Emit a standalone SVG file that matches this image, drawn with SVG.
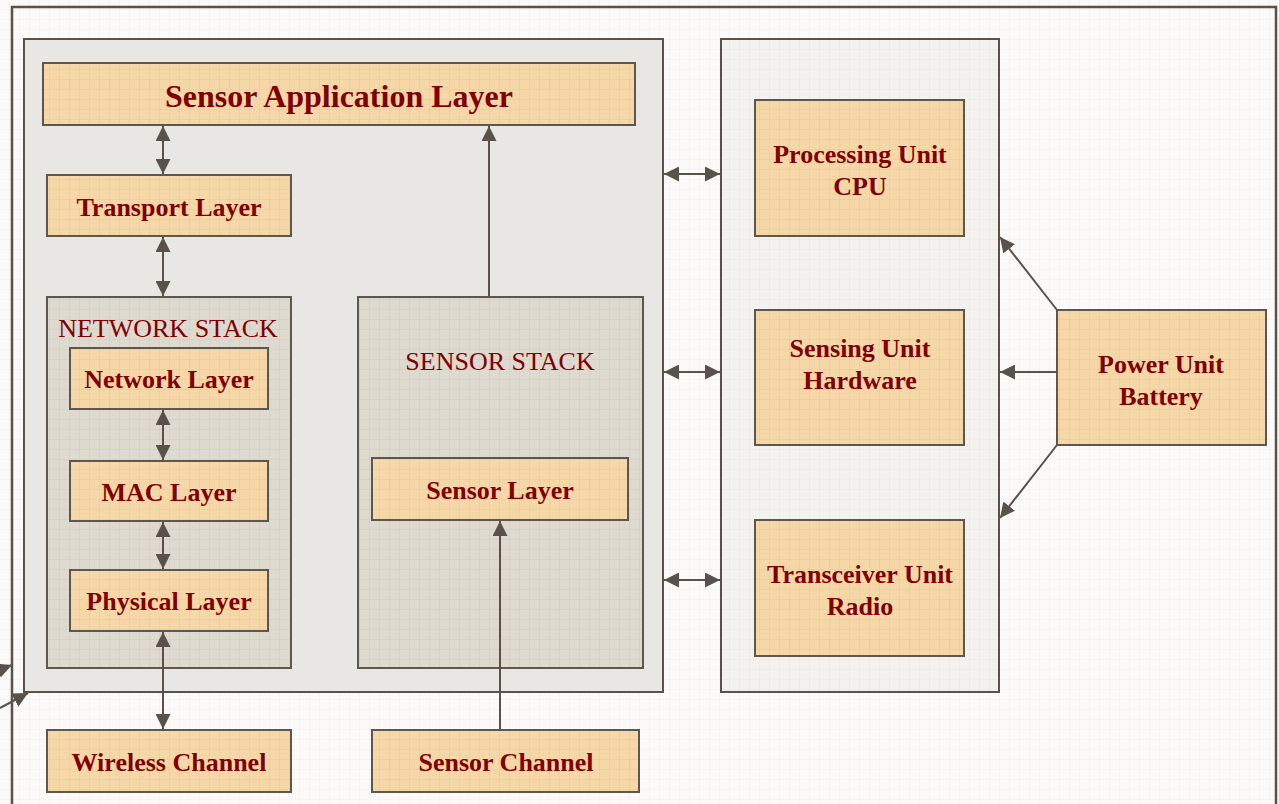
<svg xmlns="http://www.w3.org/2000/svg" width="1279" height="804" viewBox="0 0 1279 804">
  <defs>
    <pattern id="gridBg" width="10" height="10" patternUnits="userSpaceOnUse">
      <rect width="10" height="10" fill="#fbfaf8"/>
      <path d="M10 0V10H0" fill="none" stroke="#f1efeb" stroke-width="1"/>
    </pattern>
    <pattern id="gridOrange" width="10" height="10" patternUnits="userSpaceOnUse">
      <rect width="10" height="10" fill="#f6d8a8"/>
      <path d="M10 0V10H0" fill="none" stroke="#f9c47a" stroke-width="1"/>
    </pattern>
    <pattern id="gridStack" width="10" height="10" patternUnits="userSpaceOnUse">
      <rect width="10" height="10" fill="#dedad0"/>
      <path d="M10 0V10H0" fill="none" stroke="#cfcabe" stroke-width="1"/>
    </pattern>
    <pattern id="gridPanel" width="10" height="10" patternUnits="userSpaceOnUse">
      <rect width="10" height="10" fill="#f3f2ef"/>
      <path d="M10 0V10H0" fill="none" stroke="#e8e6e1" stroke-width="1"/>
    </pattern>
    <marker id="arrow" viewBox="0 0 15 15" refX="15" refY="7.5" markerWidth="15" markerHeight="15" markerUnits="userSpaceOnUse" orient="auto-start-reverse">
      <path d="M0 0L15 7.5L0 15Z" fill="#5a524a"/>
    </marker>
    <style>
      .frame { fill: none; stroke: #5a524a; stroke-width: 2.5; }
      .panel { stroke: #5a524a; stroke-width: 2; }
      .box { fill: url(#gridOrange); stroke: #5e5750; stroke-width: 2; }
      .stack { fill: url(#gridStack); stroke: #5e5750; stroke-width: 2; }
      .lbl { font-family: "Liberation Serif", "Times New Roman", serif; font-weight: bold; font-size: 26px; fill: #800000; text-anchor: middle; }
      .title { font-size: 32px; }
      .stackLbl { font-family: "Liberation Serif", "Times New Roman", serif; font-size: 26px; fill: #800000; text-anchor: middle; }
      .conn { fill: none; stroke: #5a524a; stroke-width: 2; }
    </style>
  </defs>

  <!-- page background and outer frame -->
  <rect x="0" y="0" width="1279" height="804" fill="url(#gridBg)"/>
  <path class="frame" d="M12 804V7H1276V804"/>

  <!-- software side panel -->
  <g id="software-panel">
    <rect class="panel" x="24" y="39" width="639" height="653" fill="#e9e7e3"/>
  </g>

  <!-- hardware side panel -->
  <g id="hardware-panel">
    <rect class="panel" x="721" y="39" width="278" height="653" fill="url(#gridPanel)"/>
  </g>

  <g id="sensor-application-layer">
    <rect class="box" x="43" y="63" width="592" height="62"/>
    <text class="lbl title" x="339" y="107">Sensor Application Layer</text>
  </g>

  <g id="transport-layer">
    <rect class="box" x="47" y="175" width="244" height="61"/>
    <text class="lbl" x="169" y="216">Transport Layer</text>
  </g>

  <g id="network-stack">
    <rect class="stack" x="47" y="297" width="244" height="371"/>
    <text class="stackLbl" x="168" y="337">NETWORK STACK</text>
  </g>

  <g id="network-layer">
    <rect class="box" x="70" y="348" width="198" height="61"/>
    <text class="lbl" x="169" y="388">Network Layer</text>
  </g>

  <g id="mac-layer">
    <rect class="box" x="70" y="461" width="198" height="60"/>
    <text class="lbl" x="169" y="501">MAC Layer</text>
  </g>

  <g id="physical-layer">
    <rect class="box" x="70" y="570" width="198" height="61"/>
    <text class="lbl" x="169" y="610">Physical Layer</text>
  </g>

  <g id="sensor-stack">
    <rect class="stack" x="358" y="297" width="285" height="371"/>
    <text class="stackLbl" x="500" y="370">SENSOR STACK</text>
  </g>

  <g id="sensor-layer">
    <rect class="box" x="372" y="458" width="256" height="62"/>
    <text class="lbl" x="500" y="499">Sensor Layer</text>
  </g>

  <g id="wireless-channel">
    <rect class="box" x="47" y="730" width="244" height="62"/>
    <text class="lbl" x="169" y="771">Wireless Channel</text>
  </g>

  <g id="sensor-channel">
    <rect class="box" x="372" y="730" width="267" height="62"/>
    <text class="lbl" x="506" y="771">Sensor Channel</text>
  </g>

  <g id="processing-unit">
    <rect class="box" x="755" y="100" width="209" height="136"/>
    <text class="lbl" x="860" y="163">Processing Unit</text>
    <text class="lbl" x="860" y="195">CPU</text>
  </g>

  <g id="sensing-unit">
    <rect class="box" x="755" y="310" width="209" height="135"/>
    <text class="lbl" x="860" y="357">Sensing Unit</text>
    <text class="lbl" x="860" y="389">Hardware</text>
  </g>

  <g id="transceiver-unit">
    <rect class="box" x="755" y="520" width="209" height="136"/>
    <text class="lbl" x="860" y="583">Transceiver Unit</text>
    <text class="lbl" x="860" y="615">Radio</text>
  </g>

  <g id="power-unit">
    <rect class="box" x="1057" y="310" width="209" height="135"/>
    <text class="lbl" x="1161" y="373">Power Unit</text>
    <text class="lbl" x="1161" y="405">Battery</text>
  </g>

  <!-- connectors -->
  <g id="connectors">
    <line class="conn" x1="163" y1="126" x2="163" y2="174" marker-start="url(#arrow)" marker-end="url(#arrow)"/>
    <line class="conn" x1="163" y1="237" x2="163" y2="296" marker-start="url(#arrow)" marker-end="url(#arrow)"/>
    <line class="conn" x1="163" y1="410" x2="163" y2="460" marker-start="url(#arrow)" marker-end="url(#arrow)"/>
    <line class="conn" x1="163" y1="522" x2="163" y2="569" marker-start="url(#arrow)" marker-end="url(#arrow)"/>
    <line class="conn" x1="163" y1="632" x2="163" y2="729" marker-start="url(#arrow)" marker-end="url(#arrow)"/>
    <line class="conn" x1="489" y1="296" x2="489" y2="126" marker-end="url(#arrow)"/>
    <line class="conn" x1="500" y1="729" x2="500" y2="521" marker-end="url(#arrow)"/>
    <line class="conn" x1="664" y1="174" x2="720" y2="174" marker-start="url(#arrow)" marker-end="url(#arrow)"/>
    <line class="conn" x1="664" y1="372" x2="720" y2="372" marker-start="url(#arrow)" marker-end="url(#arrow)"/>
    <line class="conn" x1="664" y1="580" x2="720" y2="580" marker-start="url(#arrow)" marker-end="url(#arrow)"/>
    <line class="conn" x1="1057" y1="310" x2="1000" y2="237" marker-end="url(#arrow)"/>
    <line class="conn" x1="1057" y1="372" x2="1000" y2="372" marker-end="url(#arrow)"/>
    <line class="conn" x1="1057" y1="445" x2="1000" y2="518" marker-end="url(#arrow)"/>
    <line class="conn" x1="-6" y1="672" x2="12" y2="665" marker-end="url(#arrow)"/>
    <line class="conn" x1="0" y1="708" x2="28" y2="693" marker-end="url(#arrow)"/>
  </g>
</svg>
